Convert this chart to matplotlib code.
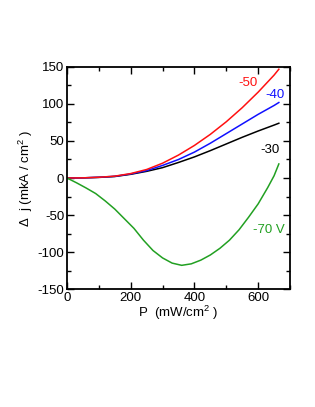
import matplotlib
matplotlib.use("Agg")
import matplotlib.pyplot as plt
from matplotlib.ticker import MultipleLocator

plt.rcParams['font.family'] = ['Liberation Sans', 'DejaVu Sans']
plt.rcParams['mathtext.default'] = 'regular'
plt.rcParams['axes.unicode_minus'] = False

x = [0, 50, 100, 150, 200, 250, 300, 350, 400, 450, 500, 550, 600, 650, 665]
red_50 = [0, 0.2, 1, 2.5, 6, 11.5, 20, 31, 44, 59, 76, 95, 116, 139, 147]
blue_40 = [0, 0.2, 1, 2.3, 5.5, 10, 17, 25, 35, 47, 60, 73, 86, 98, 102]
black_30 = [0, 0.2, 0.8, 2, 5, 9, 14, 21, 28.5, 37, 46, 55, 63.5, 71.5, 74]

xg = [0, 30, 60, 90, 120, 150, 180, 210, 240, 270, 300, 330, 360, 390, 420,
      450, 480, 510, 540, 570, 600, 630, 650, 665]
green_70 = [0, -6.5, -13.5, -21, -31, -42, -55, -68, -84, -98, -108, -115, -118,
            -116, -111, -104, -95, -84, -70, -53, -35, -13, 3, 19]

fig = plt.figure(figsize=(3.15, 4.07), dpi=100)
ax = fig.add_axes([0.2127, 0.2899, 0.7079, 0.5455])

ax.plot(x, black_30, color='black', lw=1.1)
ax.plot(x, blue_40, color='#1010ff', lw=1.1)
ax.plot(x, red_50, color='#ff1010', lw=1.1)
ax.plot(xg, green_70, color='#22a022', lw=1.1)

fs = 9.5
ax.text(569, 128, '-50', color='#ff1010', fontsize=fs, ha='center', va='center')
ax.text(653, 112, '-40', color='#1010ff', fontsize=fs, ha='center', va='center')
ax.text(636, 38, '-30', color='black', fontsize=fs, ha='center', va='center')
ax.text(685, -70, '-70 V', color='#22a022', fontsize=fs, ha='right', va='center')

ax.set_xlim(0, 700)
ax.set_ylim(-150, 150)
ax.xaxis.set_major_locator(MultipleLocator(200))
ax.xaxis.set_minor_locator(MultipleLocator(100))
ax.yaxis.set_major_locator(MultipleLocator(50))
ax.yaxis.set_minor_locator(MultipleLocator(25))
ax.tick_params(which='both', direction='in', top=True, right=True, labelsize=fs, width=1.0, pad=2)
ax.tick_params(which='major', length=5)
ax.tick_params(which='minor', length=3)
for s in ax.spines.values():
    s.set_linewidth(1.3)

ax.set_xlabel('P  (mW/cm$^{2}$ )', fontsize=fs, labelpad=0)
ax.set_ylabel('Δ  j (mkA / cm$^{2}$ )', fontsize=fs, labelpad=2)

fig.savefig('out.png', dpi=100)
